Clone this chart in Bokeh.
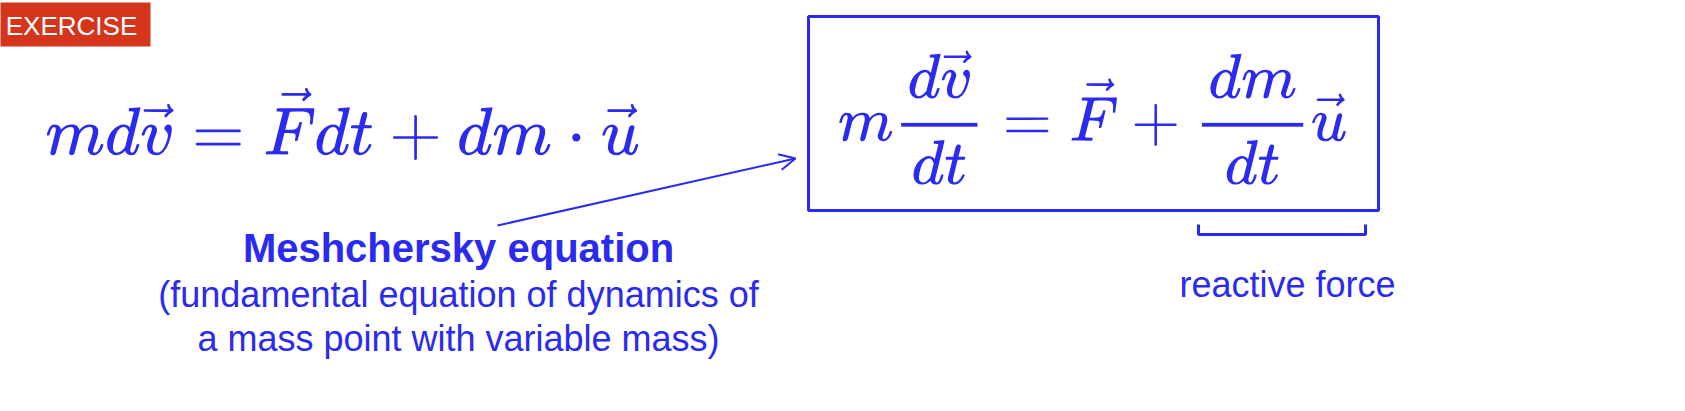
from bokeh.plotting import figure
from bokeh.models import Label, Arrow, OpenHead
from bokeh.embed import file_html
from bokeh.resources import INLINE

BLUE = "#2A2AF0"
RED = "#D5361B"

tag_text = "EXERCISE"
eq_left = r"$$m d\vec{v} = \vec{F} dt + dm \cdot \vec{u}$$"
eq_right = r"$$m\frac{d\vec{v}}{dt} = \vec{F} + \frac{dm}{dt}\vec{u}$$"
title_text = "Meshchersky equation"
note_lines = ["(fundamental equation of dynamics of", "a mass point with variable mass)"]
bracket_text = "reactive force"

p = figure(width=1669, height=395, x_range=(8, 1677), y_range=(403, 8),
           output_backend="svg", toolbar_location=None, min_border=0)
p.axis.visible = False
p.grid.visible = False
p.outline_line_color = None

# red tag
p.quad(left=[0], right=[158], top=[10], bottom=[54], fill_color=RED, line_color=None)
p.add_layout(Label(x=79, y=33, text=tag_text, text_align="center", text_baseline="middle",
                   text_color="white", text_font="Liberation Sans", text_font_size="26px"))

# equations
p.add_layout(Label(x=350, y=128, text=eq_left, text_align="center", text_baseline="middle",
                   text_color=BLUE, text_font_size="57px"))
p.quad(left=[816], right=[1386], top=[24], bottom=[218], fill_color=None,
       line_color=BLUE, line_width=3)
p.add_layout(Label(x=1100, y=122, text=eq_right, text_align="center", text_baseline="middle",
                   text_color=BLUE, text_font_size="53px"))

# arrow
p.add_layout(Arrow(x_start=505, y_start=233, x_end=803, y_end=166, line_color=BLUE, line_width=2,
                   end=OpenHead(size=16, line_color=BLUE, line_width=2)))

# texts
p.add_layout(Label(x=466, y=255, text=title_text, text_align="center", text_baseline="middle",
                   text_color=BLUE, text_font="Liberation Sans", text_font_style="bold",
                   text_font_size="40px"))
for i, t in enumerate(note_lines):
    p.add_layout(Label(x=466, y=302 + 44 * i, text=t, text_align="center", text_baseline="middle",
                       text_color=BLUE, text_font="Liberation Sans", text_font_size="36px"))

# bracket
p.line([1206, 1206, 1373, 1373], [232, 242, 242, 232], line_color=BLUE, line_width=3)
p.add_layout(Label(x=1295, y=292, text=bracket_text, text_align="center", text_baseline="middle",
                   text_color=BLUE, text_font="Liberation Sans", text_font_size="36px"))

open("out.html", "w").write(file_html(p, INLINE))
